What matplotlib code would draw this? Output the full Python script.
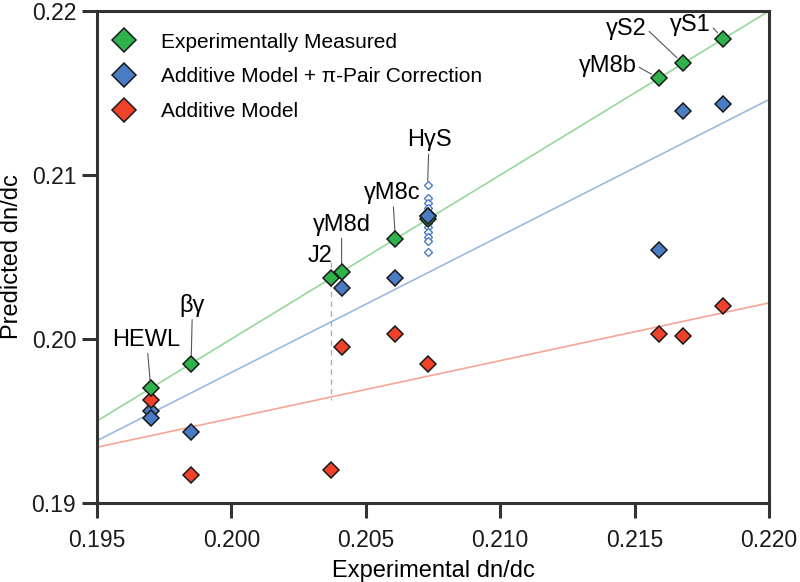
import matplotlib
matplotlib.use("Agg")
import matplotlib.pyplot as plt

plt.rcParams['font.family'] = ['Liberation Sans', 'DejaVu Sans']

# protein names and experimental dn/dc
proteins = ["HEWL", "βγ", "J2", "γM8d", "γM8c", "HγS", "γM8b", "γS2", "γS1"]
exp_x = [0.1970, 0.1985, 0.2037, 0.2041, 0.2061, 0.2073, 0.2159, 0.2168, 0.2183]
measured_y = [0.1970, 0.1985, 0.2037, 0.2041, 0.2061, 0.2073, 0.2159, 0.2168, 0.2183]

# additive model + pi-pair correction (HEWL has two points, J2 none)
corr_x = [0.1970, 0.1970, 0.1985, 0.2041, 0.2061, 0.2073, 0.2159, 0.2168, 0.2183]
corr_y = [0.1956, 0.1952, 0.1943, 0.2031, 0.2037, 0.2075, 0.2054, 0.2139, 0.2143]

# additive model
add_x = [0.1970, 0.1985, 0.2037, 0.2041, 0.2061, 0.2073, 0.2159, 0.2168, 0.2183]
add_y = [0.1963, 0.1917, 0.1920, 0.1995, 0.2003, 0.1985, 0.2003, 0.2002, 0.2020]

# HgS individual predictions (small open diamonds)
hgs_x = 0.2073
hgs_y = [0.2094, 0.2086, 0.2083, 0.2080, 0.2077, 0.2074, 0.2071, 0.2068,
         0.2065, 0.2062, 0.2060, 0.2053]

# fit lines (end points at the axis limits)
line_x = [0.195, 0.220]
meas_line_y = [0.195, 0.220]
corr_line_y = [0.1938, 0.2146]
add_line_y = [0.1934, 0.2022]

# J2 dashed guide
j2_dash_y = [0.2047, 0.1963]

green = "#2fb24a"
blue = "#4a7cc3"
red = "#f0412a"

fig = plt.figure(figsize=(8, 5.82), dpi=100)
ax = fig.add_axes([97 / 800, 79 / 582, 672 / 800, 492 / 582])

# lines
ax.plot(line_x, meas_line_y, color="#94d99a", lw=1.2, zorder=1)
ax.plot(line_x, corr_line_y, color="#9bb8e2", lw=1.2, zorder=1)
ax.plot(line_x, add_line_y, color="#f6a596", lw=1.2, zorder=1)
ax.plot([exp_x[2], exp_x[2]], j2_dash_y, color="#b0b0b0", lw=1.0,
        ls=(0, (4, 3)), zorder=1)

# small open diamonds for HgS
ax.plot([hgs_x] * len(hgs_y), hgs_y, ls="none", marker="D", ms=3.6,
        mfc="white", mec=blue, mew=1.0, zorder=2)

mk = dict(ls="none", marker="D", ms=8.5, mec="#1a1a1a", mew=1.1)
ax.plot(corr_x, corr_y, color=blue, zorder=3, **mk)
ax.plot(add_x, add_y, color=red, zorder=4, **mk)
ax.plot(exp_x, measured_y, color=green, zorder=5, **mk)
# HgS corrected value sits on top of the measured one
ax.plot(corr_x[5], corr_y[5], color=blue, zorder=6, **mk)

# legend
h1, = ax.plot([], [], color=green, label="Experimentally Measured", **mk)
h2, = ax.plot([], [], color=blue, label="Additive Model + π-Pair Correction", **mk)
h3, = ax.plot([], [], color=red, label="Additive Model", **mk)
ax.legend(handles=[h1, h2, h3], loc="upper left", frameon=False,
          fontsize=15, markerscale=1.4, handlelength=1.0,
          handletextpad=1.25, labelspacing=0.75, borderaxespad=0.0,
          borderpad=0.8, bbox_to_anchor=(0.0, 0.99))

# protein labels with leader lines (offsets in points)
lab_off = {
    "HEWL": (-3, 35, (0.5, 0.5)),
    "βγ": (1, 42, (0.5, 0.5)),
    "γM8d": (0, 34, (0.5, 0.5)),
    "γM8c": (-2, 33, (0.5, 0.5)),
    "γM8b": (-37, 9, (1.0, 0.5)),
    "γS2": (-41, 25, (1.0, 0.5)),
    "γS1": (-24, 10, (1.0, 0.5)),
}
for name, x, y in zip(proteins, exp_x, measured_y):
    if name in lab_off:
        dx, dy, rp = lab_off[name]
        ax.annotate(name, (x, y), xytext=(dx, dy), textcoords="offset points",
                    ha="center", va="center", fontsize=17, zorder=1,
                    arrowprops=dict(arrowstyle="-", color="#555555", lw=0.8,
                                    shrinkA=0, shrinkB=6, relpos=rp))
ax.annotate("J2", (exp_x[2], measured_y[2]), xytext=(-8, 16),
            textcoords="offset points", ha="center", va="center", fontsize=17)
ax.annotate("HγS", (hgs_x, max(hgs_y)), xytext=(1, 32),
            textcoords="offset points", ha="center", va="center", fontsize=17,
            arrowprops=dict(arrowstyle="-", color="#555555", lw=0.8,
                            shrinkA=0, shrinkB=3))

ax.set_xlim(0.195, 0.220)
ax.set_ylim(0.19, 0.22)
ax.set_xticks([0.195, 0.200, 0.205, 0.210, 0.215, 0.220])
ax.set_xticklabels(["0.195", "0.200", "0.205", "0.210", "0.215", "0.220"])
ax.set_yticks([0.19, 0.20, 0.21, 0.22])
ax.set_yticklabels(["0.19", "0.20", "0.21", "0.22"])

for s in ax.spines.values():
    s.set_linewidth(2.2)
    s.set_color("#333333")
ax.tick_params(axis="both", direction="out", length=11, width=2.2,
               color="#333333", labelsize=16.5, labelcolor="#1a1a1a")
ax.tick_params(axis="x", pad=8)
ax.tick_params(axis="y", pad=4)

ax.set_xlabel("Experimental dn/dc", fontsize=17, labelpad=5.5)
ax.set_ylabel("Predicted dn/dc", fontsize=17, labelpad=6)

fig.savefig("out.png", dpi=100)
